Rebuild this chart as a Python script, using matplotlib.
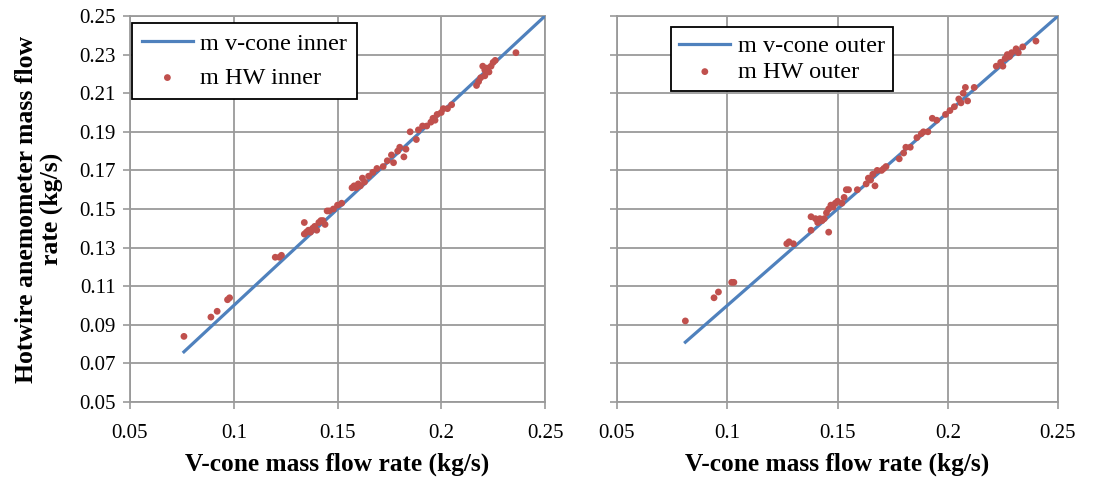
import matplotlib
matplotlib.use("Agg")
import matplotlib.pyplot as plt

plt.rcParams['font.family'] = ['Liberation Serif', 'DejaVu Serif']

# ---- data ----
line_inner_x = [0.076, 0.25]
hw_inner_x = [0.076, 0.089, 0.092, 0.097, 0.098, 0.120, 0.122, 0.123, 0.134, 0.134,
              0.135, 0.136, 0.137, 0.138, 0.139, 0.140, 0.141, 0.142, 0.143, 0.144,
              0.145, 0.146, 0.148, 0.150, 0.152, 0.157, 0.158, 0.159, 0.160, 0.161,
              0.162, 0.163, 0.165, 0.167, 0.169, 0.172, 0.174, 0.176, 0.177, 0.179,
              0.180, 0.182, 0.183, 0.185, 0.188, 0.189, 0.191, 0.193, 0.195, 0.196,
              0.197, 0.198, 0.200, 0.201, 0.203, 0.205, 0.217, 0.218, 0.219, 0.220,
              0.221, 0.221, 0.222, 0.223, 0.224, 0.225, 0.226, 0.236]
hw_inner_y = [0.084, 0.094, 0.097, 0.103, 0.104, 0.125, 0.125, 0.126, 0.143, 0.137,
              0.138, 0.139, 0.138, 0.140, 0.141, 0.139, 0.143, 0.144, 0.144, 0.142,
              0.149, 0.149, 0.150, 0.152, 0.153, 0.161, 0.162, 0.161, 0.163, 0.162,
              0.166, 0.164, 0.167, 0.169, 0.171, 0.172, 0.175, 0.178, 0.174, 0.180,
              0.182, 0.177, 0.181, 0.190, 0.186, 0.191, 0.193, 0.193, 0.195, 0.197,
              0.196, 0.199, 0.200, 0.202, 0.202, 0.204, 0.214, 0.216, 0.218, 0.224,
              0.222, 0.219, 0.223, 0.221, 0.224, 0.226, 0.227, 0.231]

line_outer_x = [0.081, 0.25]
hw_outer_x = [0.081, 0.094, 0.096, 0.102, 0.103, 0.127, 0.128, 0.130, 0.138, 0.138,
              0.140, 0.141, 0.142, 0.143, 0.144, 0.146, 0.145, 0.146, 0.147, 0.148,
              0.149, 0.150, 0.152, 0.153, 0.154, 0.155, 0.159, 0.163, 0.164, 0.165,
              0.166, 0.167, 0.168, 0.170, 0.171, 0.172, 0.178, 0.180, 0.181, 0.183,
              0.186, 0.188, 0.189, 0.191, 0.193, 0.195, 0.199, 0.201, 0.203, 0.205,
              0.206, 0.207, 0.208, 0.209, 0.212, 0.222, 0.224, 0.225, 0.226, 0.227,
              0.228, 0.229, 0.231, 0.232, 0.234, 0.240]
hw_outer_y = [0.092, 0.104, 0.107, 0.112, 0.112, 0.132, 0.133, 0.132, 0.146, 0.139,
              0.145, 0.143, 0.145, 0.144, 0.145, 0.138, 0.148, 0.150, 0.152, 0.151,
              0.153, 0.154, 0.153, 0.156, 0.160, 0.160, 0.160, 0.163, 0.166, 0.165,
              0.168, 0.162, 0.170, 0.170, 0.171, 0.172, 0.176, 0.179, 0.182, 0.182,
              0.187, 0.189, 0.190, 0.190, 0.197, 0.196, 0.199, 0.201, 0.203, 0.207,
              0.205, 0.210, 0.213, 0.206, 0.213, 0.224, 0.226, 0.224, 0.228, 0.230,
              0.229, 0.231, 0.233, 0.231, 0.234, 0.237]

x_ticks = [0.05, 0.10, 0.15, 0.20, 0.25]
x_ticklabels = ['0.05', '0.1', '0.15', '0.2', '0.25']
y_ticks = [0.05, 0.07, 0.09, 0.11, 0.13, 0.15, 0.17, 0.19, 0.21, 0.23, 0.25]
y_ticklabels = ['0.05', '0.07', '0.09', '0.11', '0.13', '0.15', '0.17', '0.19', '0.21', '0.23', '0.25']

LINE_C = '#4f81bd'
DOT_C = '#c0504d'
GRID_C = '#9a9a9a'
TICK_FS = 15
XLABEL_FS = 18.3
YLABEL_FS = 18.5
LEG_FS = 17.5

fig = plt.figure(figsize=(10.93, 4.86), dpi=100)
axL = fig.add_axes([130/1093, 84/486, 415/1093, 386/486])
axR = fig.add_axes([617/1093, 84/486, 441/1093, 386/486])

def style(ax, show_ylabels):
    ax.set_xlim(0.05, 0.25)
    ax.set_ylim(0.05, 0.25)
    ax.set_xticks(x_ticks)
    ax.set_xticklabels(x_ticklabels, fontsize=TICK_FS)
    ax.set_yticks(y_ticks)
    if show_ylabels:
        ax.set_yticklabels(y_ticklabels, fontsize=TICK_FS)
    else:
        ax.set_yticklabels([])
    ax.grid(True, color=GRID_C, linewidth=1.3)
    ax.set_axisbelow(True)
    for s in ax.spines.values():
        s.set_color(GRID_C)
        s.set_linewidth(1.3)
    ax.tick_params(axis='both', color=GRID_C, length=5, width=1.2, direction='out')
    ax.tick_params(axis='x', pad=11)
    ax.tick_params(axis='y', pad=5)
    ax.set_xlabel('V-cone mass flow rate (kg/s)', fontsize=XLABEL_FS, fontweight='bold', labelpad=7)

def legend(ax, anchor, spacing, bpad):
    leg = ax.legend(loc='upper left', bbox_to_anchor=anchor, fontsize=LEG_FS, frameon=True,
                    fancybox=False, edgecolor='black', borderpad=bpad, borderaxespad=0,
                    handlelength=2.1, handletextpad=0.3, labelspacing=spacing, framealpha=1)
    leg.get_frame().set_linewidth(1.3)
    return leg

axL.plot(line_inner_x, line_inner_x, color=LINE_C, linewidth=2.3, label='m v-cone inner', zorder=3)
axL.scatter(hw_inner_x, hw_inner_y, s=24, color=DOT_C, edgecolors='none', label='m HW inner', zorder=4)
style(axL, True)
axL.set_ylabel('Hotwire anemometer mass flow\nrate (kg/s)', fontsize=YLABEL_FS, fontweight='bold',
               linespacing=1.1)
axL.yaxis.set_label_coords(-0.162, 0.5)
legend(axL, (0.004, 0.983), 0.5, 0.42)

axR.plot(line_outer_x, line_outer_x, color=LINE_C, linewidth=2.3, label='m v-cone outer', zorder=3)
axR.scatter(hw_outer_x, hw_outer_y, s=24, color=DOT_C, edgecolors='none', label='m HW outer', zorder=4)
style(axR, False)
legend(axR, (0.122, 0.972), 0.15, 0.35)

fig.savefig('out.png', dpi=100)
